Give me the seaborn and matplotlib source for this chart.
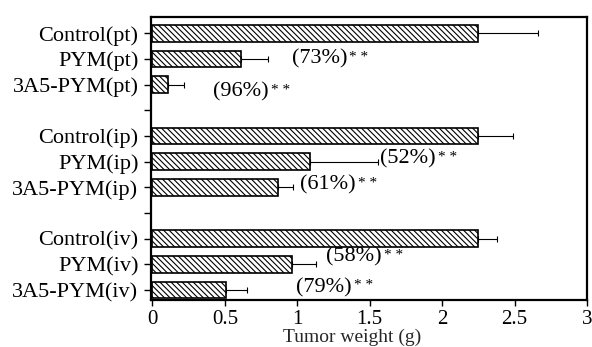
import matplotlib
matplotlib.use("Agg")
import matplotlib.pyplot as plt
import seaborn as sns
import pandas as pd

# ---- data ----
groups = ["Control(pt)", "PYM(pt)", "3A5-PYM(pt)",
          "Control(ip)", "PYM(ip)", "3A5-PYM(ip)",
          "Control(iv)", "PYM(iv)", "3A5-PYM(iv)"]
weights = [2.25, 0.61, 0.11,
           2.25, 1.09, 0.87,
           2.25, 0.96, 0.51]
errors = [0.41, 0.19, 0.11,
          0.24, 0.47, 0.10,
          0.13, 0.17, 0.14]
inhibition_groups = ["PYM(pt)", "3A5-PYM(pt)", "PYM(ip)", "3A5-PYM(ip)", "PYM(iv)", "3A5-PYM(iv)"]
inhibition_labels = ["(73%)", "(96%)", "(52%)", "(61%)", "(58%)", "(79%)"]
significance = "* *"
xticks = [0, 0.5, 1, 1.5, 2, 2.5, 3]
xtick_labels = ["0", "0.5", "1", "1.5", "2", "2.5", "3"]
xlabel = "Tumor weight (g)"

# ---- layout (not data) ----
# blank separator slots between the three administration routes
order = groups[0:3] + [" "] + groups[3:6] + ["  "] + groups[6:9]
label_x = [0.96, 0.42, 1.57, 1.02, 1.20, 0.99]
label_dy = [0.0, 0.3, -0.1, -0.1, -0.3, -0.1]

sns.set_theme(style="ticks")
plt.rcParams["font.family"] = ["Liberation Serif", "DejaVu Serif"]
plt.rcParams["hatch.linewidth"] = 0.8
plt.rcParams["hatch.color"] = "black"

fig = plt.figure(figsize=(5.92, 3.47), dpi=100)
ax = fig.add_axes([151 / 592, 1 - 300 / 347, (587 - 151) / 592, (300 - 17) / 347])

df = pd.DataFrame({"group": groups, "weight": weights, "err": errors})
sns.barplot(data=df, x="weight", y="group", order=order, orient="h",
            color="white", edgecolor="black", linewidth=1.2,
            hatch="\\" * 6, width=0.65, errorbar=None, ax=ax)

pos = [order.index(g) for g in groups]
ax.errorbar(df["weight"], pos, xerr=[[0] * len(errors), df["err"]],
            fmt="none", ecolor="black", elinewidth=0.8, capsize=2, capthick=0.8)

texts = []
for g, lab, lx, dy in zip(inhibition_groups, inhibition_labels, label_x, label_dy):
    t = ax.text(lx, order.index(g) + dy, lab, ha="left", va="center",
                fontsize=16, color="black")
    texts.append(t)

ax.set_xlim(-0.01, 3.0)
ax.set_ylim(10.39, -0.63)
ax.set_xticks(xticks)
ax.set_xticklabels(xtick_labels, fontsize=15)
ax.set_yticks(range(len(order)))
ax.set_yticklabels(order, fontsize=16)
ax.set_xlabel(xlabel, fontsize=14, labelpad=0)
ax.set_ylabel("")
ax.xaxis.set_label_coords((352 - 151) / 436, -0.1)

for s in ax.spines.values():
    s.set_visible(True)
    s.set_color("black")
    s.set_linewidth(1.6)
ax.tick_params(axis="y", direction="out", length=5, width=1, pad=4, colors="black")
ax.tick_params(axis="x", direction="out", length=4, width=1, pad=3, colors="black")

fig.canvas.draw()
r = fig.canvas.get_renderer()
for t in texts:
    bb = t.get_window_extent(r)
    ax.annotate(significance, xy=(bb.x1, bb.y0 + bb.height * 0.40), xycoords="figure pixels",
                xytext=(1.5, 0), textcoords="offset points", ha="left", va="baseline",
                fontsize=11, color="black")

fig.savefig("out.png", dpi=100)
